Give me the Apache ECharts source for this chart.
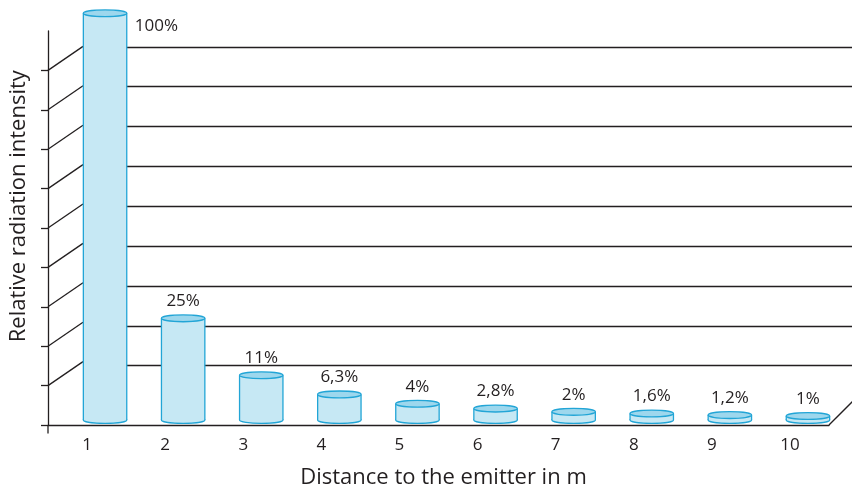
<!DOCTYPE html>
<html>
<head>
<meta charset="utf-8">
<title>Relative radiation intensity</title>
<script src="https://cdn.jsdelivr.net/npm/echarts@6/dist/echarts.min.js"></script>
<style>
  html, body { margin: 0; padding: 0; background: #ffffff; }
  #chart { width: 852px; height: 494px; }
</style>
</head>
<body>
<div id="chart"></div>
<script>
// Distance to the emitter (m) and the relative intensity at that distance (%)
const distances = ['1', '2', '3', '4', '5', '6', '7', '8', '9', '10'];
const intensity = [100, 25, 11, 6.3, 4, 2.8, 2, 1.6, 1.2, 1];
// Value-axis steps that carry a wall line and a slanted floor tick
const wallTicks = [10, 20, 30, 40, 50, 60, 70, 80, 90];
const frontTicks = [0, 10, 20, 30, 40, 50, 60, 70, 80, 90];

const FONT = '"Open Sans", "Noto Sans", sans-serif';
const INK = '#231f20';
const BODY = '#c6e8f4';
const CAP = '#9dd7ed';
const EDGE = '#22a5d6';

// depth offsets of the pseudo-3D box
const DEPTH_LEFT = [35, -24];
const DEPTH_RIGHT = [24, -24];

function pct(v) {
  return String(v).replace('.', ',') + '%';
}

const chart = echarts.init(document.getElementById('chart'), null, { renderer: 'canvas' });

// grid 0: front plane (axis, floor edge, tick labels)
// grid 1: middle plane where the cylinders stand
// grid 2: back wall carrying the horizontal lines
const option = {
  animation: false,
  backgroundColor: '#ffffff',
  grid: [
    { left: 48, top: 31, width: 781, height: 398.5 },
    { left: 66, top: 13.3, width: 781, height: 406.7 },
    { left: 83, top: 7, width: 781, height: 398.5 }
  ],
  xAxis: [
    {
      gridIndex: 0,
      type: 'category',
      data: distances,
      boundaryGap: true,
      axisLine: { show: true, lineStyle: { color: INK, width: 1.3 } },
      axisTick: { show: false },
      axisLabel: { color: INK, fontSize: 17, fontFamily: FONT, margin: 12 },
      splitLine: { show: false },
      name: 'Distance to the emitter in m',
      nameLocation: 'middle',
      nameGap: 42,
      nameTextStyle: { color: INK, fontSize: 22, fontFamily: FONT, padding: [0, 0, 0, 10] }
    },
    { gridIndex: 1, type: 'category', data: distances, show: false },
    { gridIndex: 2, type: 'category', data: distances, show: false }
  ],
  yAxis: [
    {
      gridIndex: 0,
      type: 'value',
      min: 0, max: 100, interval: 10,
      axisLine: { show: true, lineStyle: { color: INK, width: 1.3 } },
      axisTick: { show: true, length: 7, customValues: frontTicks, lineStyle: { color: INK, width: 1.3 } },
      axisLabel: { show: false },
      splitLine: { show: false }
    },
    {
      gridIndex: 1,
      type: 'value',
      min: 0, max: 100, interval: 10,
      show: false
    },
    {
      gridIndex: 2,
      type: 'value',
      min: 0, max: 100, interval: 10,
      axisLine: { show: false },
      axisTick: { show: false },
      axisLabel: { show: false },
      splitLine: {
        show: true,
        showMinLine: false,
        showMaxLine: false,
        lineStyle: { color: INK, width: 1.3 }
      },
      name: 'Relative radiation intensity',
      nameLocation: 'middle',
      nameGap: 62,
      nameTextStyle: { color: INK, fontSize: 22, fontFamily: FONT }
    }
  ],
  series: [
    {
      // slanted floor ticks joining the front axis to the back wall
      type: 'custom',
      name: 'floor ticks',
      xAxisIndex: 0,
      yAxisIndex: 0,
      clip: false,
      silent: true,
      z: 1,
      data: wallTicks.map(v => [0, v]),
      renderItem: function (params, api) {
        const p = api.coord([0, api.value(1)]);
        const band = api.size([1, 0])[0];
        const x0 = p[0] - band / 2;
        return {
          type: 'line',
          shape: { x1: x0, y1: p[1], x2: x0 + DEPTH_LEFT[0], y2: p[1] + DEPTH_LEFT[1] },
          style: { stroke: INK, lineWidth: 1.3 }
        };
      }
    },
    {
      // box corners: axis foot below the floor and the right floor edge
      type: 'custom',
      name: 'box edges',
      xAxisIndex: 0,
      yAxisIndex: 0,
      clip: false,
      silent: true,
      z: 1,
      data: [[0, 0]],
      renderItem: function (params, api) {
        const band = api.size([1, 0])[0];
        const first = api.coord([0, 0]);
        const last = api.coord([distances.length - 1, 0]);
        const xl = first[0] - band / 2;
        const xr = last[0] + band / 2;
        return {
          type: 'group',
          children: [
            {
              type: 'line',
              shape: { x1: xl, y1: first[1], x2: xl, y2: first[1] + 8.5 },
              style: { stroke: INK, lineWidth: 1.3 }
            },
            {
              type: 'line',
              shape: { x1: xr, y1: last[1], x2: xr + DEPTH_RIGHT[0], y2: last[1] + DEPTH_RIGHT[1] },
              style: { stroke: INK, lineWidth: 1.3 }
            }
          ]
        };
      }
    },
    {
      // cylinders
      type: 'custom',
      name: 'intensity',
      xAxisIndex: 1,
      yAxisIndex: 1,
      clip: false,
      z: 5,
      data: intensity.map((v, i) => [i, v]),
      renderItem: function (params, api) {
        const i = api.value(0);
        const v = api.value(1);
        const base = api.coord([i, 0]);
        const top = api.coord([i, v]);
        const rx = 21.7;
        const ry = 3.4;
        const xl = base[0] - rx;
        const xr = base[0] + rx;
        const label = i === 0
          ? { x: xr + 8, y: top[1] + 12.5, align: 'left' }
          : { x: base[0], y: top[1] - 17, align: 'center' };
        return {
          type: 'group',
          children: [
            {
              type: 'ellipse',
              shape: { cx: base[0], cy: base[1], rx: rx, ry: ry },
              style: { fill: BODY, stroke: EDGE, lineWidth: 1.3 }
            },
            {
              type: 'rect',
              shape: { x: xl, y: top[1], width: rx * 2, height: base[1] - top[1] },
              style: { fill: BODY }
            },
            {
              type: 'line',
              shape: { x1: xl, y1: top[1], x2: xl, y2: base[1] },
              style: { stroke: EDGE, lineWidth: 1.3 }
            },
            {
              type: 'line',
              shape: { x1: xr, y1: top[1], x2: xr, y2: base[1] },
              style: { stroke: EDGE, lineWidth: 1.3 }
            },
            {
              type: 'ellipse',
              shape: { cx: base[0], cy: top[1], rx: rx, ry: ry },
              style: { fill: CAP, stroke: EDGE, lineWidth: 1.3 }
            },
            {
              type: 'text',
              style: {
                text: pct(intensity[i]),
                x: label.x,
                y: label.y,
                align: label.align,
                verticalAlign: 'middle',
                fill: INK,
                fontSize: 17,
                fontFamily: FONT
              }
            }
          ]
        };
      }
    }
  ]
};

chart.setOption(option);
</script>
</body>
</html>
